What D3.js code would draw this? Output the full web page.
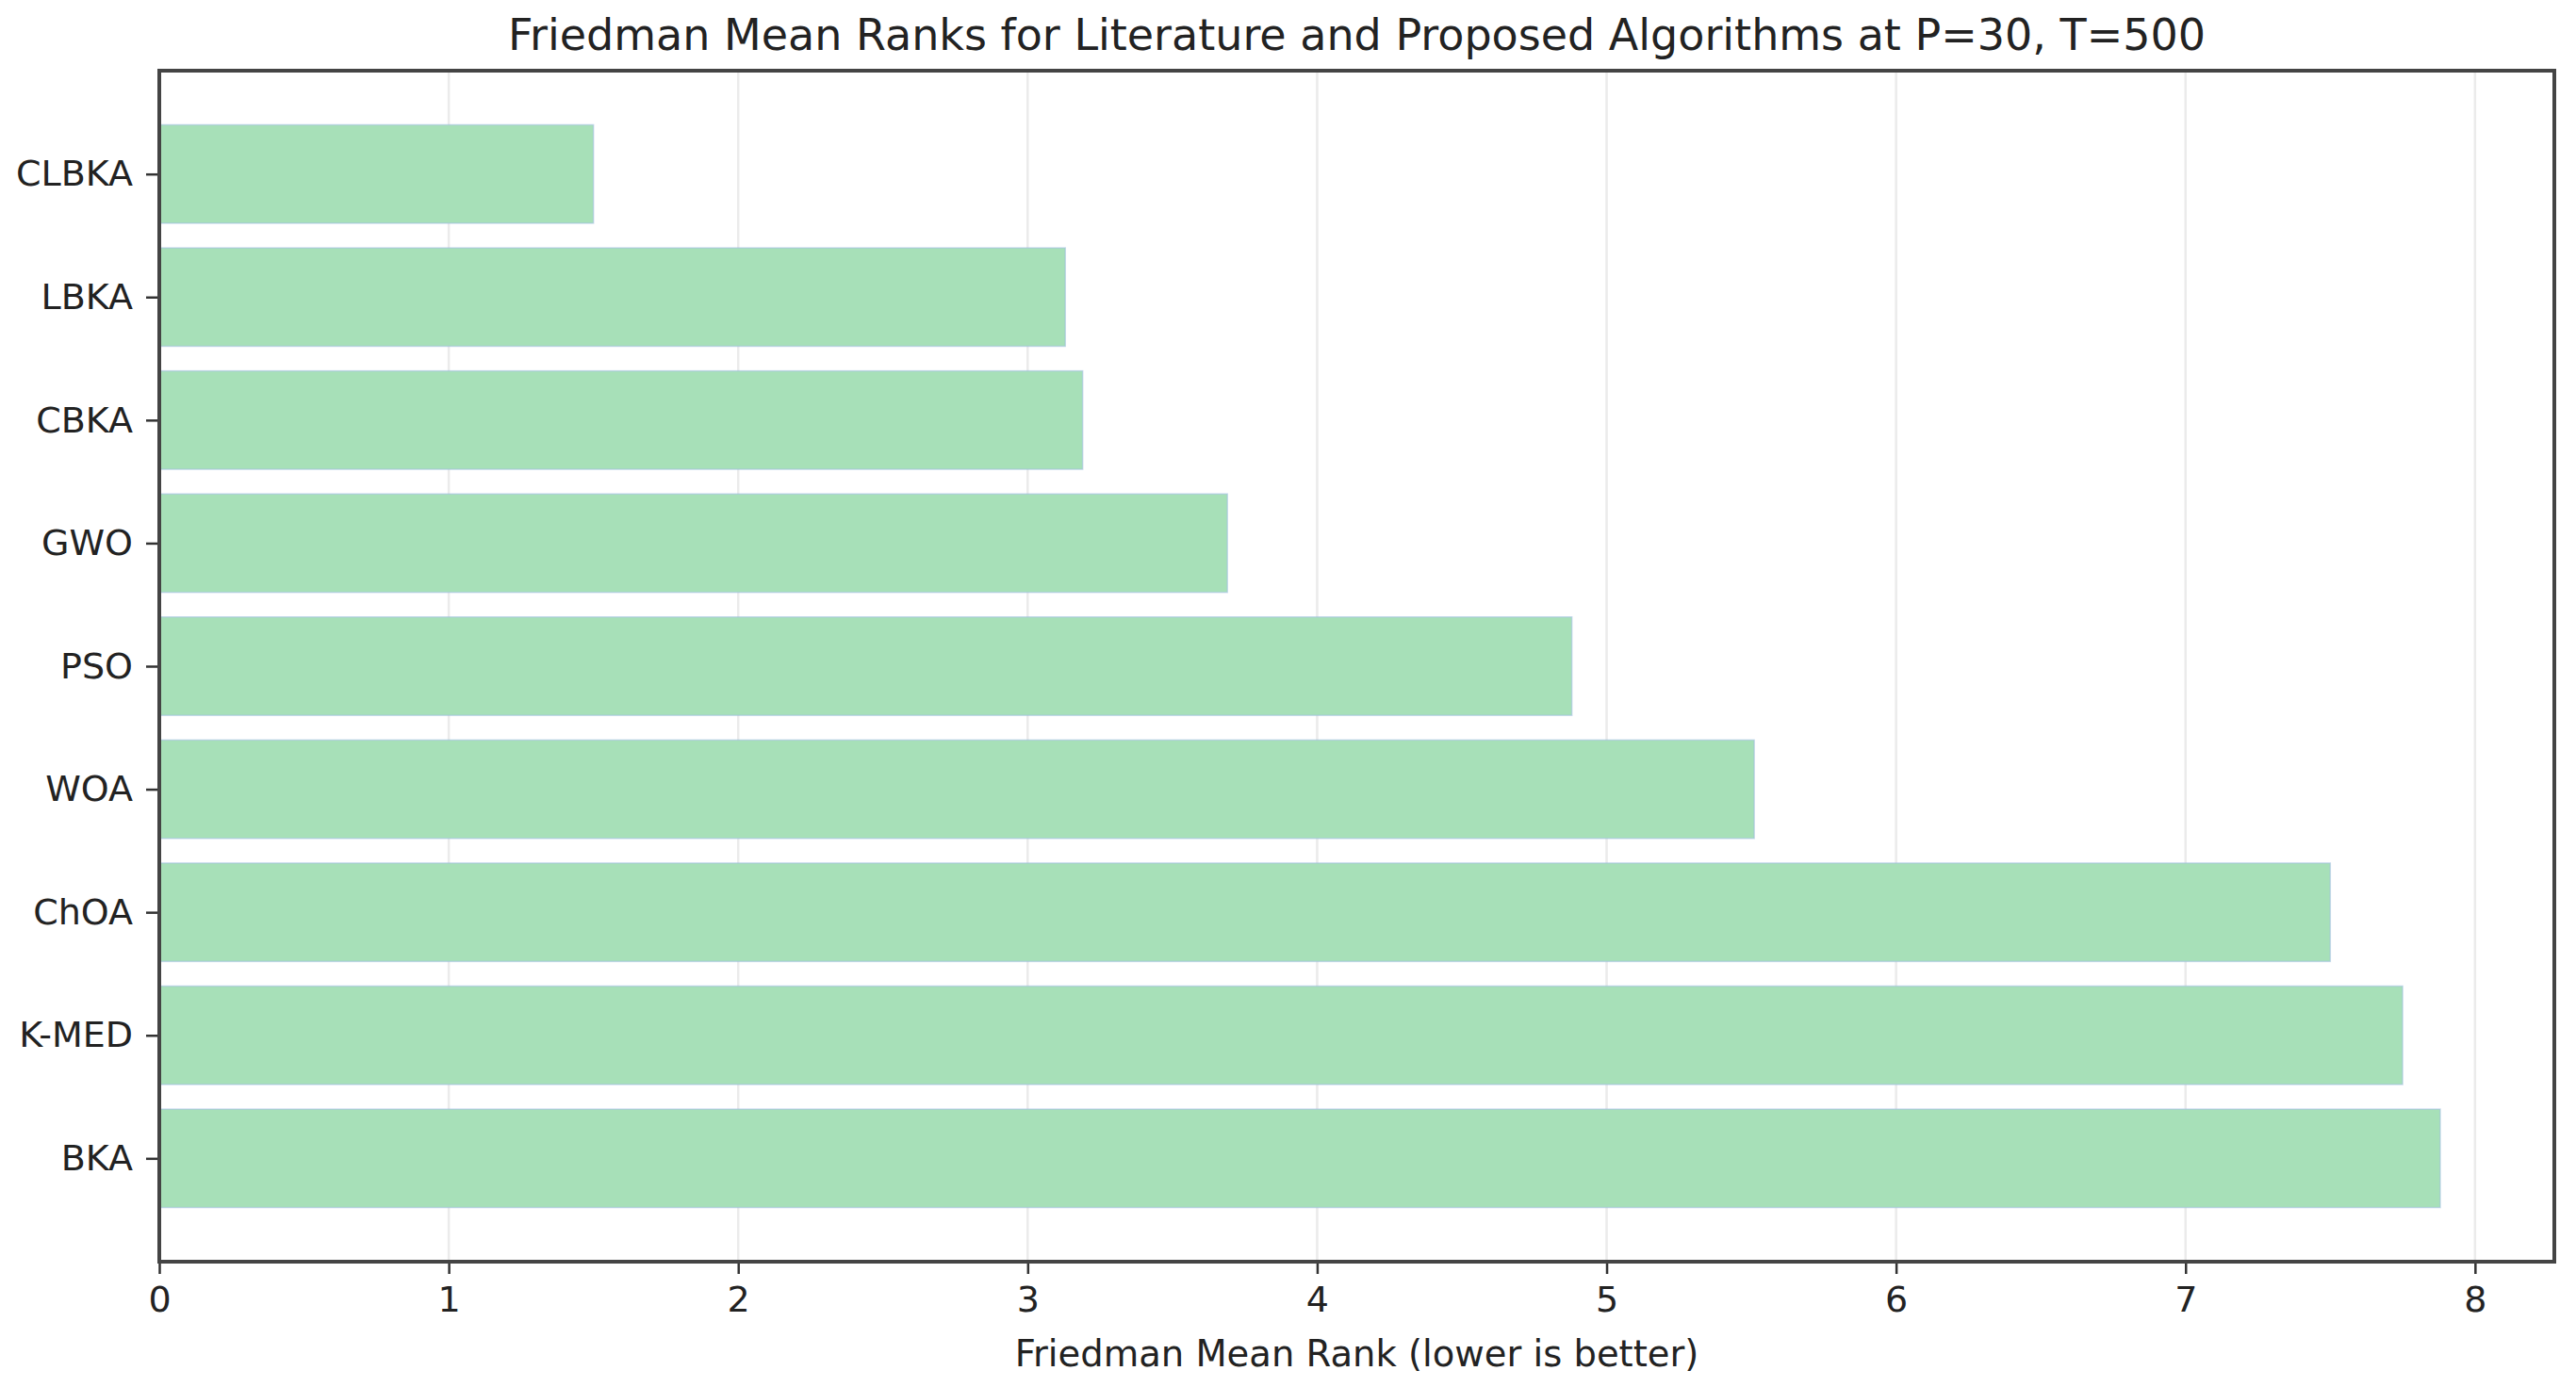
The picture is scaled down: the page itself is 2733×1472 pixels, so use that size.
<!DOCTYPE html>
<html>
<head>
<meta charset="utf-8">
<script src="https://cdn.jsdelivr.net/npm/d3@7"></script>
<style>
  body { margin: 0; background: #fff; }
  text { font-family: "DejaVu Sans", sans-serif; fill: #222; }
</style>
</head>
<body>
<div id="chart"></div>
<script>
// algorithms, top to bottom
var algorithms = ["CLBKA", "LBKA", "CBKA", "GWO", "PSO", "WOA", "ChOA", "K-MED", "BKA"];
// Friedman mean ranks
var meanRanks = [1.50, 3.13, 3.19, 3.69, 4.88, 5.51, 7.50, 7.75, 7.88];
var xTicks = [0, 1, 2, 3, 4, 5, 6, 7, 8];

var titleText = "Friedman Mean Ranks for Literature and Proposed Algorithms at P=30, T=500";
var xLabel = "Friedman Mean Rank (lower is better)";

var W = 2733, H = 1472;
var margin = {top: 75, right: 23, bottom: 133, left: 169},
    width = W - margin.left - margin.right,
    height = H - margin.top - margin.bottom;

// matplotlib-like limits: 5% margin on x max, bars 0.8 tall with 5% margin on y
var xMax = d3.max(meanRanks) * 1.05;
var x = d3.scaleLinear().domain([0, xMax]).range([0, width]);
var n = algorithms.length;
var pad = (n - 1 + 0.8) * 0.05;
var y = d3.scaleLinear().domain([-0.4 - pad, n - 1 + 0.4 + pad]).range([0, height]);
var barH = y(0.8) - y(0);

var svg = d3.select("#chart").append("svg")
    .attr("width", W)
    .attr("height", H);

var g = svg.append("g")
    .attr("transform", "translate(" + margin.left + "," + margin.top + ")");

// grid lines
g.append("g").selectAll("line")
  .data(xTicks)
  .enter().append("line")
    .attr("x1", function(d) { return x(d); })
    .attr("x2", function(d) { return x(d); })
    .attr("y1", 0)
    .attr("y2", height)
    .attr("stroke", "#ebebeb")
    .attr("stroke-width", 2.5);

// bars
g.append("g").selectAll("rect")
  .data(meanRanks)
  .enter().append("rect")
    .attr("x", x(0))
    .attr("y", function(d, i) { return y(i) - barH / 2; })
    .attr("width", function(d) { return x(d) - x(0); })
    .attr("height", barH)
    .attr("fill", "#a7e0b8")
    .attr("stroke", "rgba(160,190,225,0.55)")
    .attr("stroke-width", 1.5);

// x axis
var xAxis = g.append("g")
    .attr("transform", "translate(0," + height + ")")
    .call(d3.axisBottom(x).tickValues(xTicks).tickFormat(d3.format("d"))
          .tickSize(13).tickPadding(13));
xAxis.select(".domain").remove();
xAxis.selectAll(".tick line").attr("stroke", "#333").attr("stroke-width", 2.5);
xAxis.selectAll(".tick text").style("font-size", "38px").attr("fill", "#222");

// y axis
var yAxis = g.append("g")
    .call(d3.axisLeft(y).tickValues(d3.range(n)).tickFormat(function(i) { return algorithms[i]; })
          .tickSize(14).tickPadding(14));
yAxis.select(".domain").remove();
yAxis.selectAll(".tick line").attr("stroke", "#333").attr("stroke-width", 2.5);
yAxis.selectAll(".tick text").style("font-size", "38px").attr("fill", "#222");

// frame
g.append("rect")
    .attr("x", 0)
    .attr("y", 0)
    .attr("width", width)
    .attr("height", height)
    .attr("fill", "none")
    .attr("stroke", "#444")
    .attr("stroke-width", 4);

// title
svg.append("text")
    .attr("x", margin.left + width / 2)
    .attr("y", 53)
    .attr("text-anchor", "middle")
    .style("font-size", "46px")
    .text(titleText);

// x label
svg.append("text")
    .attr("x", margin.left + width / 2)
    .attr("y", 1450)
    .attr("text-anchor", "middle")
    .style("font-size", "38.5px")
    .text(xLabel);
</script>
</body>
</html>
